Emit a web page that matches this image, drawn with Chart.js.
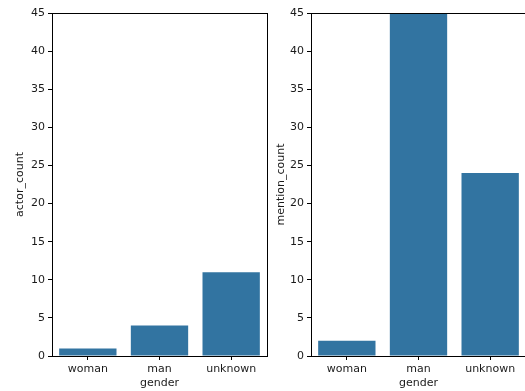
<!DOCTYPE html>
<html><head><meta charset="utf-8">
<script src="https://cdn.jsdelivr.net/npm/chart.js@4/dist/chart.umd.min.js"></script>
<style>
html,body{margin:0;padding:0;width:525px;height:391px;overflow:hidden;background:#fff;}
.box{position:absolute;top:0;height:391px;}
</style></head><body>
<div class="box" style="left:0;width:275px"><canvas id="c1" width="275" height="391"></canvas></div>
<div class="box" style="left:265px;width:275px"><canvas id="c2" width="275" height="391"></canvas></div>
<script>
const categories = ["woman", "man", "unknown"];
const actorCount = [1, 4, 11];
const mentionCount = [2, 60, 24];
const yTicks = [0, 5, 10, 15, 20, 25, 30, 35, 40, 45];
const xTitle = "gender";

const FONT = "'DejaVu Sans', sans-serif";
const frame = {
  id: 'frame',
  afterDatasetsDraw(chart) {
    const a = chart.chartArea, ctx = chart.ctx;
    ctx.save();
    ctx.strokeStyle = '#000';
    ctx.lineWidth = 1;
    ctx.strokeRect(Math.round(a.left) + 0.5, Math.round(a.top) + 0.5, Math.round(a.right - a.left), Math.round(a.bottom - a.top));
    ctx.restore();
  }
};

function make(id, values, yTitle, yWidth, titlePad, padRight) {
  new Chart(document.getElementById(id), {
    type: 'bar',
    data: { labels: categories, datasets: [{ data: values, backgroundColor: '#3274a1', borderWidth: 0, barPercentage: 0.8, categoryPercentage: 1.0 }] },
    options: {
      responsive: false, animation: false,
      layout: { padding: { top: 13, right: padRight, bottom: 0, left: 0 } },
      plugins: { legend: { display: false }, tooltip: { enabled: false } },
      scales: {
        x: {
          offset: true,
          grid: { display: true, offset: false, drawOnChartArea: false, tickLength: 4, tickColor: '#000', color: '#000' },
          border: { display: false },
          ticks: { color: '#1a1a1a', font: { family: FONT, size: 11 }, padding: 3, maxRotation: 0 },
          title: { display: true, text: xTitle, color: '#1a1a1a', font: { family: FONT, size: 11 }, padding: { top: 0, bottom: 1 } },
          afterFit(s) { s.height = 35; }
        },
        y: {
          min: 0, max: 45,
          afterBuildTicks(s) { s.ticks = yTicks.map(v => ({ value: v })); },
          grid: { display: true, drawOnChartArea: false, tickLength: 4, tickColor: '#000', color: '#000' },
          border: { display: false },
          ticks: { color: '#1a1a1a', font: { family: FONT, size: 11 }, padding: 3 },
          title: { display: true, text: yTitle, color: '#1a1a1a', font: { family: FONT, size: 11 }, padding: { top: titlePad, bottom: 0 } },
          afterFit(s) { s.width = yWidth; }
        }
      }
    },
    plugins: [frame]
  });
}
make('c1', actorCount, 'actor_count', 52, 14, 8);
make('c2', mentionCount, 'mention_count', 46, 10, 14);
</script>
</body></html>
